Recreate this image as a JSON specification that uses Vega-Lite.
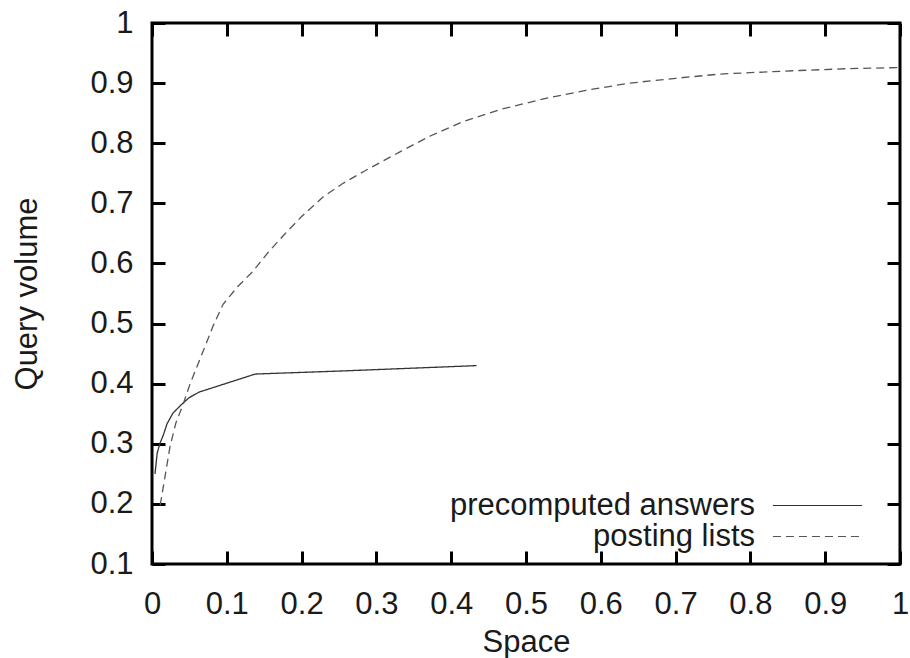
{
  "$schema": "https://vega.github.io/schema/vega-lite/v6.json",
  "width": 748,
  "height": 541,
  "autosize": "none",
  "padding": {"left": 152, "top": 23, "right": 10, "bottom": 94},
  "background": "white",
  "config": {
    "font": "Liberation Sans",
    "view": {"stroke": "black", "strokeWidth": 3},
    "axis": {
      "domain": false,
      "ticks": false,
      "grid": true,
      "gridColor": "black",
      "gridOpacity": 1,
      "gridWidth": 3,
      "labelFont": "Liberation Sans",
      "labelFontSize": 31,
      "labelColor": "#1a1a1a",
      "titleFont": "Liberation Sans",
      "titleFontSize": 31,
      "titleFontWeight": "normal",
      "titleColor": "#1a1a1a"
    }
  },
  "data": {
    "values": [
      {"series": "precomputed answers", "space": 0.004, "volume": 0.25},
      {"series": "precomputed answers", "space": 0.007, "volume": 0.285},
      {"series": "precomputed answers", "space": 0.011, "volume": 0.302},
      {"series": "precomputed answers", "space": 0.015, "volume": 0.314},
      {"series": "precomputed answers", "space": 0.02, "volume": 0.333},
      {"series": "precomputed answers", "space": 0.028, "volume": 0.351},
      {"series": "precomputed answers", "space": 0.04, "volume": 0.366},
      {"series": "precomputed answers", "space": 0.05, "volume": 0.377},
      {"series": "precomputed answers", "space": 0.063, "volume": 0.386},
      {"series": "precomputed answers", "space": 0.138, "volume": 0.416},
      {"series": "precomputed answers", "space": 0.251, "volume": 0.421},
      {"series": "precomputed answers", "space": 0.434, "volume": 0.43},
      {"series": "posting lists", "space": 0.011, "volume": 0.198},
      {"series": "posting lists", "space": 0.018, "volume": 0.25},
      {"series": "posting lists", "space": 0.024, "volume": 0.295},
      {"series": "posting lists", "space": 0.032, "volume": 0.335},
      {"series": "posting lists", "space": 0.042, "volume": 0.367},
      {"series": "posting lists", "space": 0.051, "volume": 0.4},
      {"series": "posting lists", "space": 0.069, "volume": 0.456},
      {"series": "posting lists", "space": 0.082, "volume": 0.497},
      {"series": "posting lists", "space": 0.095, "volume": 0.532},
      {"series": "posting lists", "space": 0.115, "volume": 0.562},
      {"series": "posting lists", "space": 0.135, "volume": 0.587},
      {"series": "posting lists", "space": 0.155, "volume": 0.618},
      {"series": "posting lists", "space": 0.176, "volume": 0.647},
      {"series": "posting lists", "space": 0.2, "volume": 0.678},
      {"series": "posting lists", "space": 0.229, "volume": 0.711},
      {"series": "posting lists", "space": 0.255, "volume": 0.733},
      {"series": "posting lists", "space": 0.283, "volume": 0.753},
      {"series": "posting lists", "space": 0.332, "volume": 0.786},
      {"series": "posting lists", "space": 0.372, "volume": 0.812},
      {"series": "posting lists", "space": 0.416, "volume": 0.836},
      {"series": "posting lists", "space": 0.465, "volume": 0.856},
      {"series": "posting lists", "space": 0.528, "volume": 0.875},
      {"series": "posting lists", "space": 0.58, "volume": 0.888},
      {"series": "posting lists", "space": 0.639, "volume": 0.9},
      {"series": "posting lists", "space": 0.7, "volume": 0.908},
      {"series": "posting lists", "space": 0.759, "volume": 0.915},
      {"series": "posting lists", "space": 0.81, "volume": 0.918},
      {"series": "posting lists", "space": 0.866, "volume": 0.921},
      {"series": "posting lists", "space": 0.93, "volume": 0.924},
      {"series": "posting lists", "space": 1.0, "volume": 0.926}
    ]
  },
  "mark": {"type": "line", "strokeWidth": 1.3, "clip": true},
  "encoding": {
    "x": {
      "field": "space",
      "type": "quantitative",
      "title": "Space",
      "scale": {"domain": [0, 1], "nice": false, "zero": false},
      "axis": {
        "values": [0, 0.1, 0.2, 0.3, 0.4, 0.5, 0.6, 0.7, 0.8, 0.9, 1],
        "format": "~g",
        "labelPadding": 25,
        "titlePadding": 8,
        "gridDash": [13, 515, 13],
        "labelFlush": false
      }
    },
    "y": {
      "field": "volume",
      "type": "quantitative",
      "title": "Query volume",
      "scale": {"domain": [0.1, 1], "nice": false, "zero": false},
      "axis": {
        "values": [0.1, 0.2, 0.3, 0.4, 0.5, 0.6, 0.7, 0.8, 0.9, 1],
        "format": "~g",
        "labelPadding": 19,
        "titlePadding": 46,
        "gridDash": [13, 722, 13],
        "labelFlush": false
      }
    },
    "color": {
      "field": "series",
      "type": "nominal",
      "scale": {"domain": ["precomputed answers", "posting lists"], "range": ["#333333", "#555555"]},
      "legend": {
        "title": null,
        "orient": "none",
        "legendX": 650,
        "legendY": 467,
        "symbolType": "M-8,0H8",
        "symbolSize": 124,
        "symbolStrokeWidth": 1.2,
        "labelAlign": "right",
        "labelOffset": -78,
        "labelFontSize": 31,
        "labelFont": "Liberation Sans",
        "labelColor": "#1a1a1a",
        "labelLimit": 0,
        "rowPadding": -5,
        "padding": 0
      }
    },
    "strokeDash": {
      "field": "series",
      "type": "nominal",
      "scale": {"domain": ["precomputed answers", "posting lists"], "range": [[1, 0], [8, 5]]},
      "legend": null
    }
  }
}
